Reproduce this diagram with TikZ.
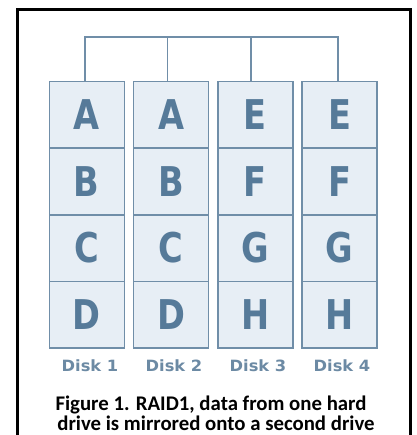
\documentclass[tikz,border=0pt]{standalone}
\usepackage{fontspec}
\newfontfamily\letterfont{DejaVu Sans}[BoldFont={DejaVu Sans Bold}]
\newfontfamily\capfont{Carlito}[BoldFont={Carlito Bold}]
\definecolor{cellfill}{RGB}{231,238,245}
\definecolor{cellline}{RGB}{112,142,168}
\definecolor{celltext}{RGB}{86,122,153}
\definecolor{disktext}{RGB}{108,138,164}
\tikzset{
  cell/.style={draw=cellline, fill=cellfill, line width=1.5pt, minimum width=75pt, minimum height=66.5pt, inner sep=0pt, anchor=north west,
    font=\letterfont\bfseries\fontsize{41}{41}\selectfont, text=celltext},
  wire/.style={draw=cellline, line width=1.5pt},
  disklabel/.style={font=\letterfont\bfseries\fontsize{15.5}{16}\selectfont, text=disktext, inner sep=0pt},
  caption/.style={font=\capfont\bfseries\fontsize{20.8}{22}\selectfont, inner sep=0pt, anchor=base},
  frame/.style={draw=black, line width=3pt}
}
\newcommand{\cx}[1]{\scalebox{0.82}[1]{#1}}
\newcommand{\dx}[1]{\scalebox{1.05}[1]{#1}}
\begin{document}
\begin{tikzpicture}[x=1pt,y=-1pt]
\useasboundingbox (0,0) rectangle (416,435);
\begin{scope}
\clip (0,0) rectangle (416,435);
\draw[frame] (17.5,9.8) rectangle (410.5,450);
\end{scope}
% cells
\foreach \col/\x/\la/\lb/\lc/\ld in {1/48.5/A/B/C/D, 2/132.8/A/B/C/D, 3/217.1/E/F/G/H, 4/301.4/E/F/G/H}{
  \node[cell] (c\col1) at (\x,81) {\cx{\la}};
  \node[cell] (c\col2) at (\x,147.5) {\cx{\lb}};
  \node[cell] (c\col3) at (\x,214) {\cx{\lc}};
  \node[cell] (c\col4) at (\x,280.5) {\cx{\ld}};
}
% bus
\coordinate (b1) at (85,37);
\coordinate (b2) at (167.5,37);
\coordinate (b3) at (251,37);
\coordinate (b4) at (338,37);
\draw[wire] (b1 |- c11.north) -- (b1) -- (b4) -- (b4 |- c41.north);
\draw[wire] (b2) -- (b2 |- c21.north);
\draw[wire] (b3) -- (b3 |- c31.north);
% disk labels
\node[disklabel] (d1) at (90,366) {\dx{Disk 1}};
\node[disklabel] (d2) at (174,366) {\dx{Disk 2}};
\node[disklabel] (d3) at (258,366) {\dx{Disk 3}};
\node[disklabel] (d4) at (342,366) {\dx{Disk 4}};
% caption
\node[caption] (cap1) at (211,410.5) {Figure 1. RAID1, data from one hard};
\node[caption] (cap2) at (216,430) {drive is mirrored onto a second drive};
\end{tikzpicture}
\end{document}
